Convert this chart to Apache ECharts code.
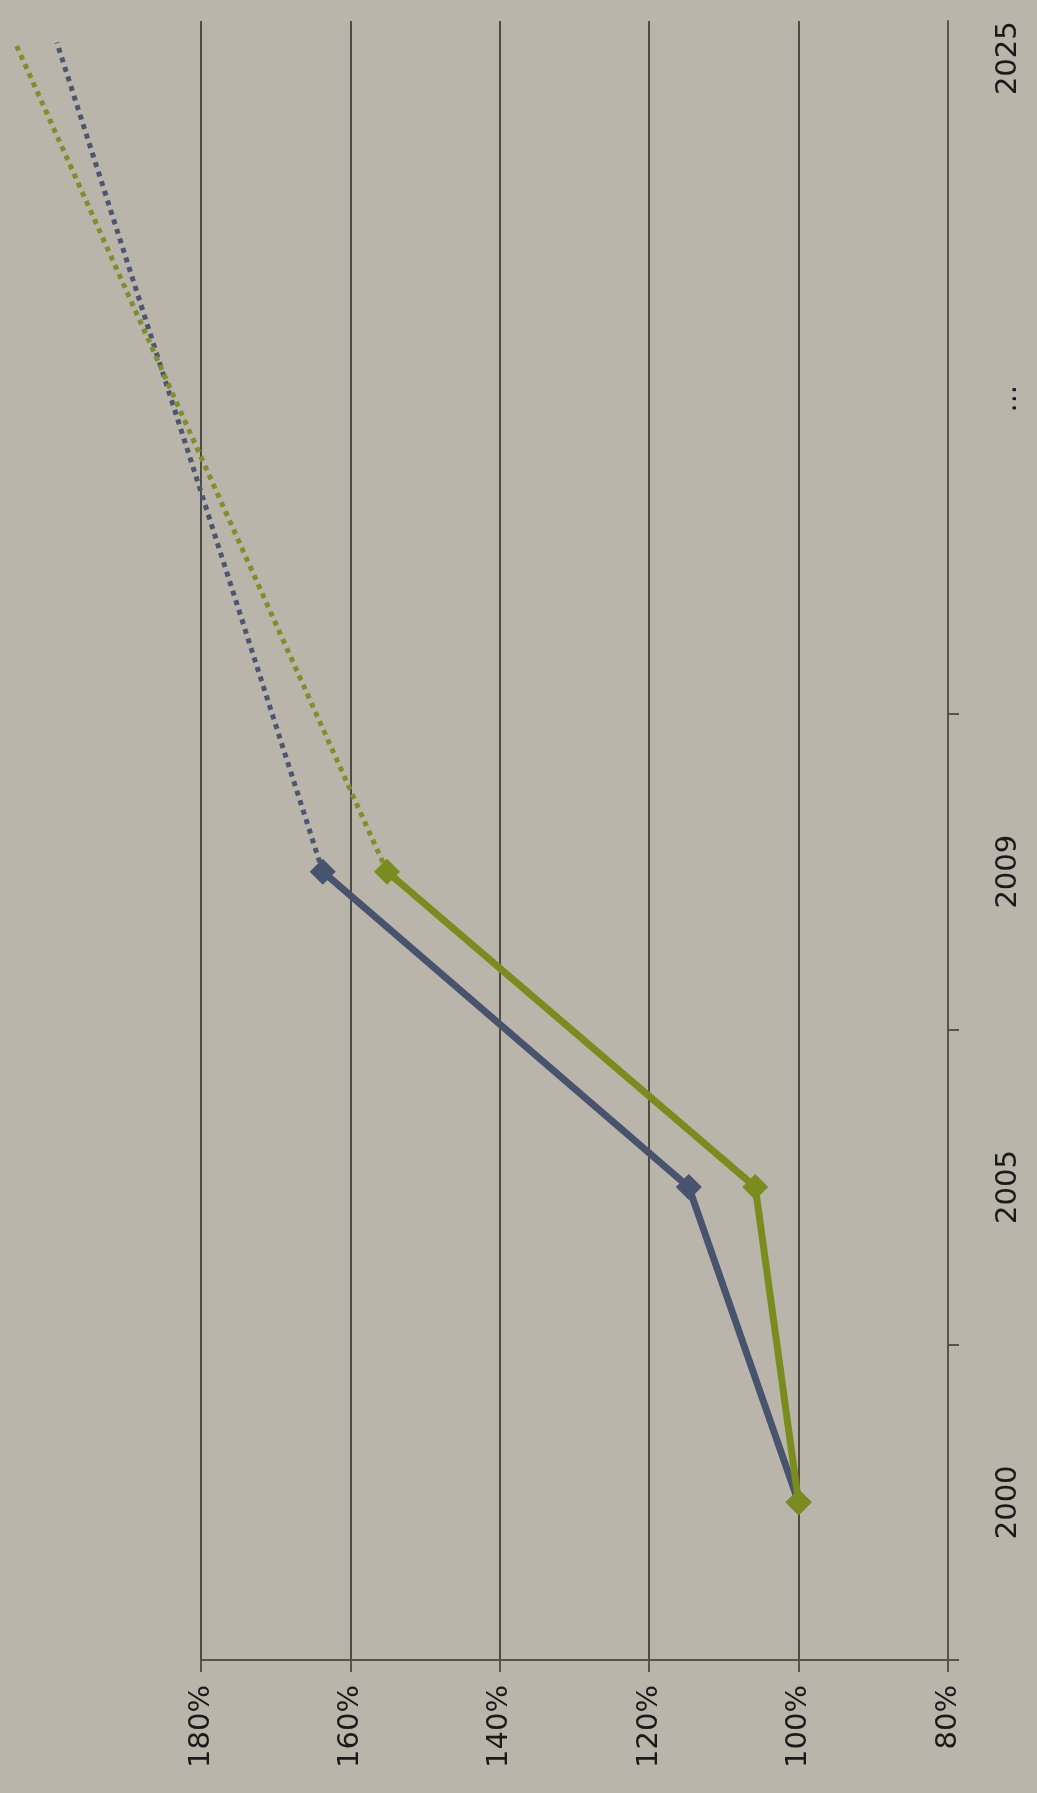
<!DOCTYPE html>
<html>
<head>
<meta charset="utf-8">
<script src="https://cdn.jsdelivr.net/npm/echarts@6/dist/echarts.min.js"></script>
<style>
  html, body { margin: 0; padding: 0; background: #bab5ab; }
  #chart { width: 1037px; height: 1793px; }
</style>
</head>
<body>
<div id="chart"></div>
<script>
// category slots along the (rotated) time axis; one slot per band
const years = ['2000', '2005', '2009'];
const yearPos = [0.5, 1.5, 2.5];
const blueVals = [100, 114.7, 163.7];
const greenVals = [100, 105.8, 155.1];

// dotted projections from 2009 out to 2025
const blueTrendPos = [2.5, 5.13];
const blueTrendVals = [163.7, 199.3];
const greenTrendPos = [2.5, 5.12];
const greenTrendVals = [155.1, 204.7];

// time axis labels and band boundaries
const timeLabelPos = [0.5, 1.5, 2.5, 4.0, 5.08];
const timeLabels = ['2000', '2005', '2009', '...', '2025'];
const timeTickPos = [0, 1, 2, 3];
const pctTicks = [80, 100, 120, 140, 160, 180];

const pairs = (xs, ys) => xs.map((x, i) => [x, ys[i]]);

// the projections run past 180%, so the series sit on a wider, hidden grid
// that shares the same scale as the visible one
const plotLeft = 201, plotRight = 89, plotTop = 21, plotBottom = 133;
const pxPerPct = (1037 - plotRight - plotLeft) / (180 - 80);
const wideMax = 80 + (1037 - plotRight) / pxPerPct;

const axisColor = '#57534c';

const chart = echarts.init(document.getElementById('chart'));
chart.setOption({
  backgroundColor: '#bab5ab',
  animation: false,
  grid: [
    { left: plotLeft, right: plotRight, top: plotTop, bottom: plotBottom },
    { left: 0, right: plotRight, top: plotTop, bottom: plotBottom }
  ],
  xAxis: [
    {
      type: 'value',
      gridIndex: 0,
      min: 80,
      max: 180,
      inverse: true,
      position: 'bottom',
      axisLine: { show: true, lineStyle: { color: axisColor, width: 2 } },
      axisTick: { show: true, length: 12, customValues: pctTicks, lineStyle: { color: axisColor, width: 2 } },
      splitLine: { show: true, lineStyle: { color: '#4e4a44', width: 2 } },
      axisLabel: {
        customValues: pctTicks,
        rotate: 90,
        margin: 25,
        fontFamily: 'DejaVu Sans',
        fontSize: 29,
        color: '#1a1a1a',
        formatter: v => v + '%'
      }
    },
    {
      type: 'value',
      gridIndex: 1,
      min: 80,
      max: wideMax,
      inverse: true,
      show: false
    }
  ],
  yAxis: [
    {
      type: 'value',
      gridIndex: 0,
      min: 0,
      max: 5.198,
      position: 'right',
      axisLine: { show: true, onZero: false, lineStyle: { color: axisColor, width: 2 } },
      axisTick: { show: true, length: 11, customValues: timeTickPos, lineStyle: { color: axisColor, width: 2 } },
      splitLine: { show: false },
      axisLabel: {
        customValues: timeLabelPos,
        rotate: 90,
        margin: 46,
        fontFamily: 'DejaVu Sans',
        fontSize: 29,
        color: '#1a1a1a',
        formatter: v => timeLabels[timeLabelPos.indexOf(v)] || ''
      }
    },
    {
      type: 'value',
      gridIndex: 1,
      min: 0,
      max: 5.198,
      show: false
    }
  ],
  series: [
    {
      name: 'blue trend',
      type: 'line',
      xAxisIndex: 1,
      yAxisIndex: 1,
      data: pairs(blueTrendVals, blueTrendPos),
      symbol: 'none',
      lineStyle: { color: '#4c5670', width: 5, type: [5, 5] },
      z: 2
    },
    {
      name: 'green trend',
      type: 'line',
      xAxisIndex: 1,
      yAxisIndex: 1,
      data: pairs(greenTrendVals, greenTrendPos),
      symbol: 'none',
      lineStyle: { color: '#7f8f2a', width: 5, type: [5, 5] },
      z: 2
    },
    {
      name: 'blue',
      type: 'line',
      xAxisIndex: 1,
      yAxisIndex: 1,
      data: pairs(blueVals, yearPos),
      symbol: 'diamond',
      symbolSize: 26,
      itemStyle: { color: '#48536d' },
      lineStyle: { color: '#48536d', width: 7 },
      z: 3
    },
    {
      name: 'green',
      type: 'line',
      xAxisIndex: 1,
      yAxisIndex: 1,
      data: pairs(greenVals, yearPos),
      symbol: 'diamond',
      symbolSize: 26,
      itemStyle: { color: '#7b8c1f' },
      lineStyle: { color: '#7b8c1f', width: 7 },
      z: 4
    }
  ]
});
</script>
</body>
</html>
